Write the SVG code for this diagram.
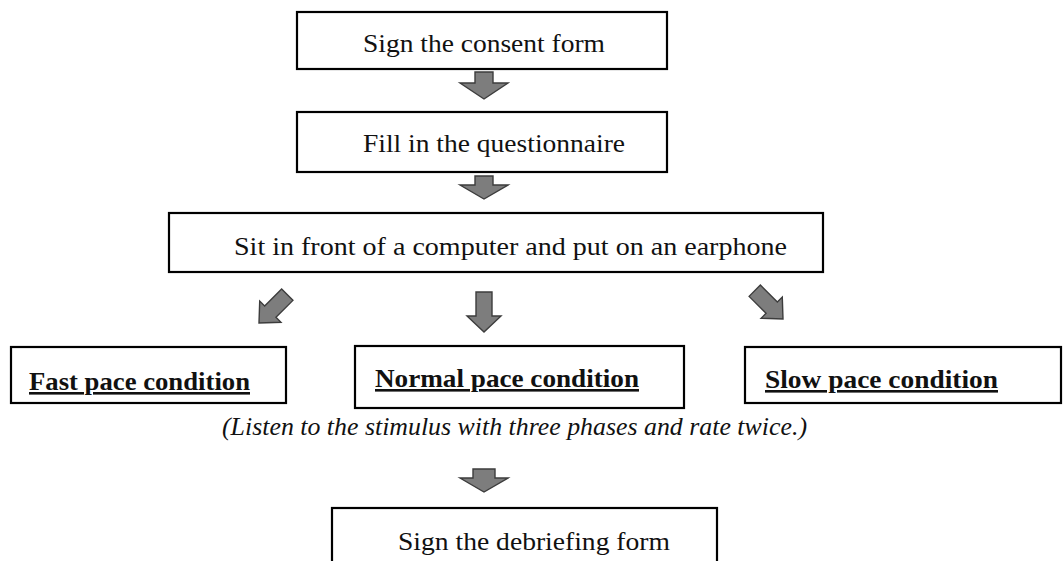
<svg xmlns="http://www.w3.org/2000/svg" width="1063" height="561" viewBox="0 0 1063 561">
<style>
.box{fill:#fff;stroke:#000;stroke-width:2.2}
text{font-family:'Liberation Serif','Times New Roman',Times,serif;font-size:26px;fill:#111}
.b{font-weight:bold;text-decoration:underline}
.i{font-style:italic}
.arr{fill:#7d7d7d;stroke:#3c3c3c;stroke-width:1.4;stroke-linejoin:miter}
</style>
<defs>
<polygon id="diag" class="arr" points="-8,-40 8,-40 8,-16 15,-16 0,0 -15,-16 -8,-16"/>
</defs>
<rect width="1063" height="561" fill="#fff"/>
<g id="connectors">
<polygon class="arr" points="475,72 493,72 493,83 508,83 484,99 460,83 475,83"/>
<polygon class="arr" points="475,176 493,176 493,185 508,185 484,199 460,185 475,185"/>
<use href="#diag" transform="translate(259,323) rotate(45)"/>
<polygon class="arr" points="476,292 492,292 492,316 501,316 484,332 467,316 476,316"/>
<use href="#diag" transform="translate(783,319) rotate(-45)"/>
<polygon class="arr" points="473,469 495,469 495,478 508,478 484,492 460,478 473,478"/>
</g>
<g id="consent">
<rect class="box" x="297" y="12" width="370" height="57"/>
<text x="363" y="52" textLength="242" lengthAdjust="spacingAndGlyphs" font-family="Liberation Serif, serif">Sign the consent form</text>
</g>
<g id="questionnaire">
<rect class="box" x="297" y="112" width="370" height="60"/>
<text x="363" y="152" textLength="262" lengthAdjust="spacingAndGlyphs" font-family="Liberation Serif, serif">Fill in the questionnaire</text>
</g>
<g id="computer">
<rect class="box" x="169" y="213" width="654" height="59"/>
<text x="234" y="255" textLength="553" lengthAdjust="spacingAndGlyphs" font-family="Liberation Serif, serif">Sit in front of a computer and put on an earphone</text>
</g>
<g id="fast">
<rect class="box" x="11" y="347" width="275" height="56"/>
<text class="b" x="29" y="390" textLength="221" lengthAdjust="spacingAndGlyphs" font-family="Liberation Serif, serif">Fast pace condition</text>
</g>
<g id="normal">
<rect class="box" x="355" y="346" width="329" height="62"/>
<text class="b" x="375" y="387" textLength="264" lengthAdjust="spacingAndGlyphs" font-family="Liberation Serif, serif">Normal pace condition</text>
</g>
<g id="slow">
<rect class="box" x="745" y="347" width="316" height="56"/>
<text class="b" x="765" y="388" textLength="233" lengthAdjust="spacingAndGlyphs" font-family="Liberation Serif, serif">Slow pace condition</text>
</g>
<g id="note">
<text class="i" x="222" y="435" textLength="585" lengthAdjust="spacingAndGlyphs" font-family="Liberation Serif, serif">(Listen to the stimulus with three phases and rate twice.)</text>
</g>
<g id="debriefing">
<rect class="box" x="332" y="508" width="385" height="70"/>
<text x="398" y="550" textLength="272" lengthAdjust="spacingAndGlyphs" font-family="Liberation Serif, serif">Sign the debriefing form</text>
</g>
</svg>
